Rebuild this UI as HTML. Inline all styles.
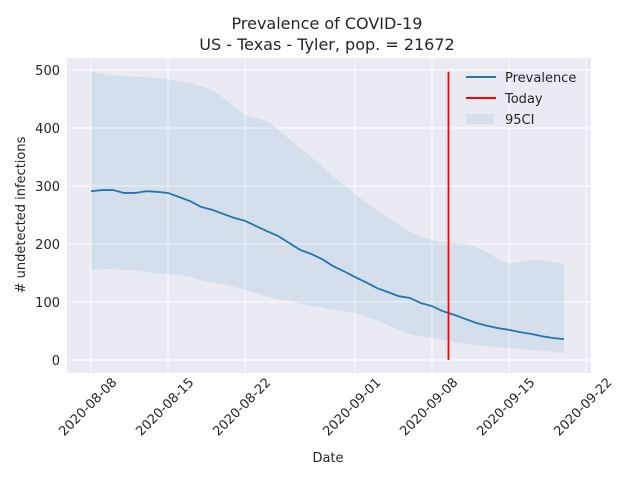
<!DOCTYPE html>
<html><head><meta charset="utf-8"><style>
body{margin:0;background:#fff}
svg{display:block;font-family:"DejaVu Sans","Liberation Sans",sans-serif}
</style></head><body>
<svg id="chart" width="640" height="480" viewBox="0 0 640 480">
<rect width="640" height="480" fill="#fff"/>
<text x="327" y="29" text-anchor="middle" font-size="16" fill="#262626">Prevalence of COVID-19</text>
<text x="327" y="50" text-anchor="middle" font-size="16" fill="#262626">US - Texas - Tyler, pop. = 21672</text>
<rect x="67" y="58" width="524" height="315" fill="#eaeaf2"/>
<g id="grid"></g>
<g id="marks"></g>
<g id="ticks"></g>
<text x="328" y="462" text-anchor="middle" font-size="13" fill="#262626">Date</text>
<text transform="translate(25,215) rotate(-90)" text-anchor="middle" font-size="13" fill="#262626"># undetected infections</text>
<g>
<line x1="466" y1="77" x2="496" y2="77" stroke="#1f77b4" stroke-width="2"/>
<text x="505" y="82" font-size="13" fill="#262626">Prevalence</text>
<line x1="466" y1="98" x2="496" y2="98" stroke="#ff0000" stroke-width="2"/>
<text x="505" y="103" font-size="13" fill="#262626">Today</text>
<rect x="466" y="114" width="28" height="10" fill="#1f77b4" fill-opacity="0.1"/>
<text x="505" y="124" font-size="13" fill="#262626">95CI</text>
</g>
</svg>
<script>
const prevalence=[291,293,293,288,288,291,290,288,281,274,264,259,252,245,240,231,222,214,202,190,183,174,162,153,143,134,124,117,110,107,98,93,84,78,71,64,59,55,52,48,45,41,38,36];
const upperCI=[497,493,491,490,488,488,486,484,481,478,472,466,452,438,422,417,412,397,381,366,350,334,317,302,286,272,259,245,233,221,212,207,203,203,200,195,186,174,166,169,172,172,169,166];
const lowerCI=[155,157,157,155,155,152,150,148,147,143,138,134,131,126,121,116,110,105,102,97,93,91,86,84,81,74,69,60,52,45,41,38,34,31,28,26,24,22,21,19,17,16,14,12];
const todayDay=[32.5];
const yTicks=[0,100,200,300,400,500];
const xTickDays=[0,7,14,24,31,38,45];
const xTickLabels=["2020-08-08","2020-08-15","2020-08-22","2020-09-01","2020-09-08","2020-09-15","2020-09-22"];
const NS="http://www.w3.org/2000/svg";
const xS=d=>91+d*11;
const yS=v=>360-v*0.58;
function mk(tag,attrs,parent){const e=document.createElementNS(NS,tag);for(const k in attrs)e.setAttribute(k,attrs[k]);document.getElementById(parent).appendChild(e);return e;}
yTicks.forEach(v=>{
 const l=mk('line',{x1:67,x2:591,y1:yS(v),y2:yS(v),stroke:'#fff','stroke-width':1},'grid');
 
 
 const t=mk('text',{x:60,y:yS(v)+5,'text-anchor':'end','font-size':13,fill:'#262626'},'ticks');
 t.textContent=v;
 
 
});
xTickDays.forEach((d,i)=>{
 const l=mk('line',{x1:xS(d),x2:xS(d),y1:58,y2:373,stroke:'#fff','stroke-width':1},'grid');
 
 
 const cx=xS(d)-3,cy=407;
 const t=mk('text',{x:cx,y:cy+4,'text-anchor':'middle','font-size':13,fill:'#262626',transform:`rotate(-45 ${cx} ${cy})`},'ticks');
 t.textContent=xTickLabels[i];
 
 
});
let pts=upperCI.map((v,i)=>xS(i)+','+yS(v));
for(let i=lowerCI.length-1;i>=0;i--)pts.push(xS(i)+','+yS(lowerCI[i]));
const band=mk('polygon',{points:pts.join(' '),fill:'#1f77b4','fill-opacity':0.1},'marks');


const line=mk('polyline',{points:prevalence.map((v,i)=>xS(i)+','+yS(v)).join(' '),fill:'none',stroke:'#1f77b4','stroke-width':1.8},'marks');


const tl=mk('line',{x1:xS(todayDay[0]),x2:xS(todayDay[0]),y1:yS(Math.max(...upperCI)),y2:yS(0),stroke:'#ff0000','stroke-width':1.8},'marks');


</script>
</body></html>
